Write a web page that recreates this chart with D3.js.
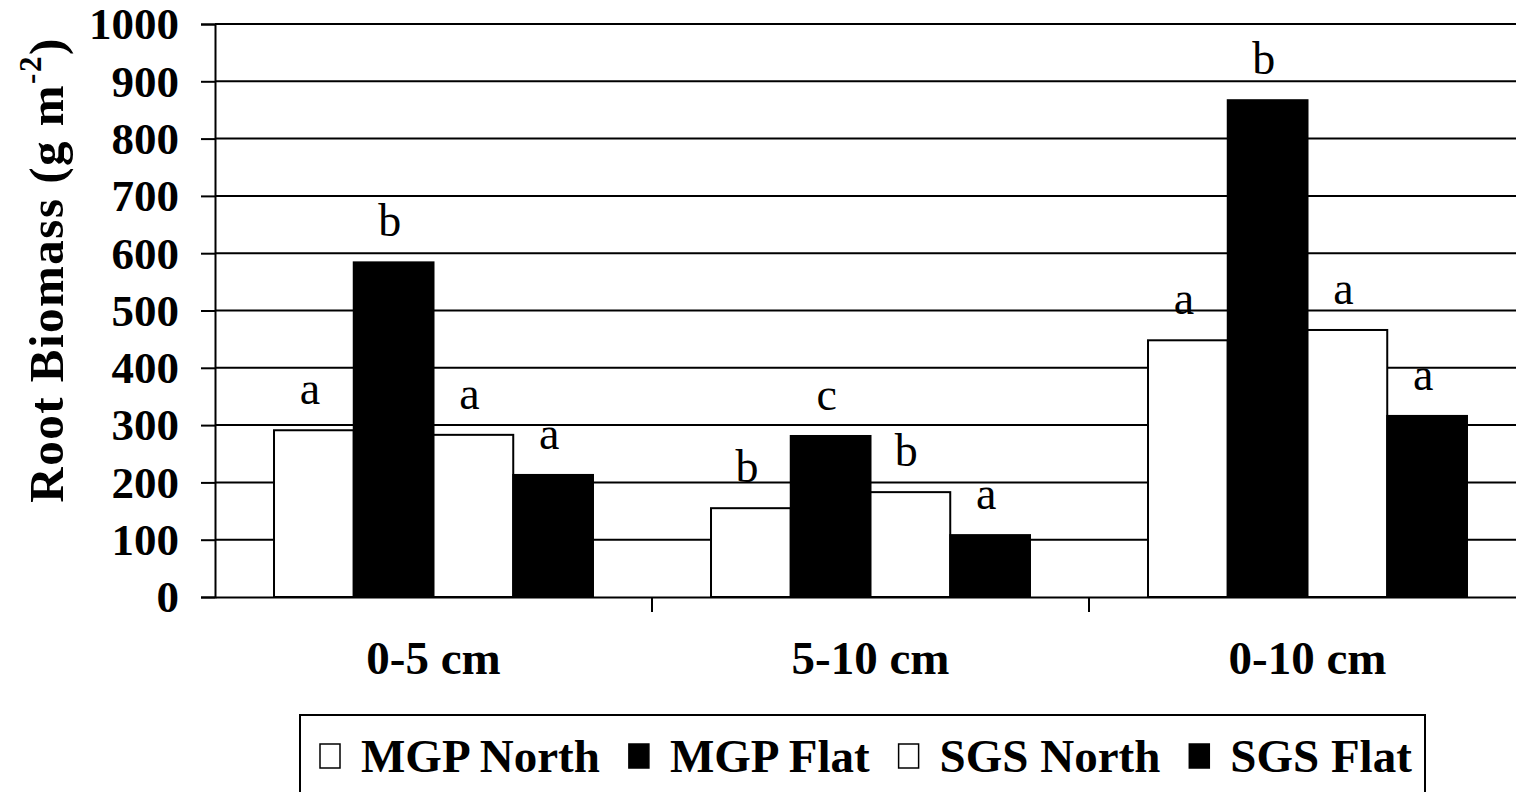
<!DOCTYPE html>
<meta charset="utf-8">
<script src="https://d3js.org/d3.v7.min.js"></script>
<style>
  body { margin: 0; background: #fff; }
  svg { display: block; }
</style>
<div id="chart"></div>
<script>

// data
var depths = ["0-5 cm", "5-10 cm", "0-10 cm"];
var sites = ["MGP North", "MGP Flat", "SGS North", "SGS Flat"];
var siteFill = ["#fff", "#000", "#fff", "#000"];
var mgpNorth = [291, 155, 448];
var mgpFlat = [584, 281, 867];
var sgsNorth = [283, 183, 466];
var sgsFlat = [213, 108, 316];
var letters = [["a", "b", "a", "a"], ["b", "c", "b", "a"], ["a", "b", "a", "a"]];
var yTicks = [0, 100, 200, 300, 400, 500, 600, 700, 800, 900, 1000];

var series = [mgpNorth, mgpFlat, sgsNorth, sgsFlat];
var serif = "Liberation Serif";

// size and margins
var W = 1516, H = 792;
var margin = {top: 24, left: 215, bottom: 195, right: -10};
var width = W - margin.left - margin.right,
    height = H - margin.top - margin.bottom;

var svg = d3.select("#chart")
  .append("svg")
    .attr("width", W)
    .attr("height", H)
    .attr("font-family", serif);

var g = svg.append("g")
    .attr("transform", "translate(" + margin.left + "," + margin.top + ")");

// scales
var x = d3.scaleBand()
  .domain(depths)
  .range([0, width])
  .padding(0);

var xs = d3.scaleBand()
  .domain(sites)
  .range([0, x.bandwidth()])
  .paddingInner(0)
  .paddingOuter(0.74);

var y = d3.scaleLinear()
  .domain([0, 1000])
  .range([height, 0]);

// horizontal grid lines
g.selectAll(".grid")
  .data(yTicks.filter(function(d){ return d > 0; }))
  .enter()
  .append("line")
    .attr("x1", 0)
    .attr("x2", width)
    .attr("y1", function(d){ return y(d); })
    .attr("y2", function(d){ return y(d); })
    .attr("stroke", "#000")
    .attr("stroke-width", 2);

// y axis
var yAxis = g.append("g")
  .call(d3.axisLeft(y).tickValues(yTicks).tickFormat(d3.format("d")).tickSize(14).tickPadding(22))
  .attr("font-family", serif)
  .attr("font-size", 45)
  .attr("font-weight", "bold");
yAxis.selectAll("line").attr("stroke", "#000").attr("stroke-width", 2);
yAxis.select(".domain").attr("stroke", "#000").attr("stroke-width", 2);
yAxis.selectAll("text").attr("fill", "#000").attr("dy", "0.33em");

// x axis
var xAxis = g.append("g")
  .attr("transform", "translate(0," + height + ")")
  .call(d3.axisBottom(x).tickSize(0).tickPadding(44))
  .attr("font-family", serif)
  .attr("font-size", 47)
  .attr("font-weight", "bold");
xAxis.select(".domain").attr("stroke", "#000").attr("stroke-width", 2);
xAxis.selectAll("text").attr("fill", "#000");

// category separator ticks
g.selectAll(".xtick")
  .data(depths)
  .enter()
  .append("line")
    .attr("x1", function(d){ return x(d) + x.bandwidth(); })
    .attr("x2", function(d){ return x(d) + x.bandwidth(); })
    .attr("y1", height)
    .attr("y2", height + 15)
    .attr("stroke", "#000")
    .attr("stroke-width", 2);

// bars
var groups = g.selectAll(".grp")
  .data(depths)
  .enter()
  .append("g")
    .attr("transform", function(d){ return "translate(" + x(d) + ",0)"; });

groups.selectAll("rect")
  .data(function(d, i){
    return sites.map(function(s, j){ return {site: s, j: j, v: series[j][i]}; });
  })
  .enter()
  .append("rect")
    .attr("x", function(d){ return xs(d.site); })
    .attr("y", function(d){ return y(d.v); })
    .attr("width", xs.bandwidth())
    .attr("height", function(d){ return height - y(d.v); })
    .attr("fill", function(d){ return siteFill[d.j]; })
    .attr("stroke", "#000")
    .attr("stroke-width", 2);

// significance letters
groups.selectAll(".lab")
  .data(function(d, i){
    return sites.map(function(s, j){ return {site: s, v: series[j][i], lab: letters[i][j]}; });
  })
  .enter()
  .append("text")
    .attr("x", function(d){ return xs(d.site) + xs.bandwidth() / 2 - 4; })
    .attr("y", function(d){ return y(d.v) - 26; })
    .attr("text-anchor", "middle")
    .attr("font-family", serif)
    .attr("font-size", 46)
    .text(function(d){ return d.lab; });

// y axis title
var title = svg.append("text")
  .attr("transform", "translate(63,270) rotate(-90)")
  .attr("text-anchor", "middle")
  .attr("font-family", serif)
  .attr("font-weight", "bold")
  .attr("font-size", 49)
  .attr("letter-spacing", 1.5);
title.append("tspan").text("Root Biomass (g m");
title.append("tspan").attr("dy", -22).attr("font-size", 31).text("-2");
title.append("tspan").attr("dy", 22).text(")");

// legend
var legend = svg.append("g");
legend.append("rect")
  .attr("x", 300)
  .attr("y", 715)
  .attr("width", 1125)
  .attr("height", 100)
  .attr("fill", "none")
  .attr("stroke", "#000")
  .attr("stroke-width", 2);

var lx = 320;
sites.forEach(function(s, j){
  legend.append("rect")
    .attr("x", lx)
    .attr("y", 744)
    .attr("width", 20)
    .attr("height", 24)
    .attr("fill", siteFill[j])
    .attr("stroke", "#000")
    .attr("stroke-width", 1.5);
  var t = legend.append("text")
    .attr("x", lx + 41)
    .attr("y", 772)
    .attr("font-family", serif)
    .attr("font-weight", "bold")
    .attr("font-size", 47)
    .text(s);
  lx += 41 + t.node().getComputedTextLength() + 29;
});

</script>
